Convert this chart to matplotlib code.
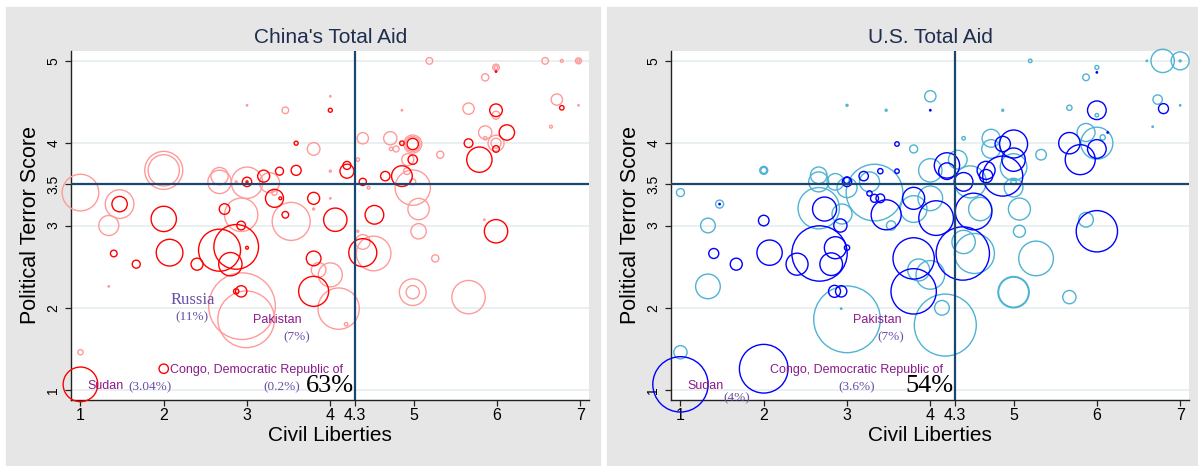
import matplotlib
matplotlib.use("Agg")
import matplotlib.pyplot as plt
from matplotlib.patches import Rectangle

plt.rcParams["font.family"] = ["Liberation Sans", "DejaVu Sans"]

# ---- data: civil liberties (x), political terror score (y), aid (bubble area) ----
# China, light series
china_lt_x = [1.00, 1.47, 1.34, 2.00, 2.00, 2.67, 2.67, 3.00, 3.27, 3.33, 3.80, 3.46, 4.00, 3.00,
              4.00, 4.00, 3.80, 2.87, 2.93, 3.53, 5.19, 6.58, 6.78, 6.98, 6.98, 5.99, 5.99, 5.86,
              6.72, 6.98, 4.86, 6.65, 5.66, 5.99, 5.86, 5.86, 5.99, 5.99, 5.32, 4.39, 4.72, 4.73,
              4.79, 4.99, 4.99, 4.93, 4.99, 4.92, 4.99, 4.46, 4.33, 5.06, 5.06, 4.39, 4.52, 5.26,
              4.99, 4.99, 5.66, 4.10, 4.19, 4.33, 5.85, 2.94, 2.99, 4.00, 3.86, 1.34, 1.00]
china_lt_y = [3.40, 3.26, 3.00, 3.67, 3.67, 3.60, 3.53, 3.52, 3.52, 3.40, 3.93, 4.40, 4.57, 4.46,
              3.66, 3.33, 3.20, 3.53, 3.13, 3.05, 5.00, 5.00, 5.00, 5.00, 5.00, 4.92, 4.92, 4.80,
              4.53, 4.46, 4.40, 4.20, 4.42, 4.34, 4.13, 4.06, 4.00, 4.00, 3.86, 4.06, 4.06, 3.93,
              3.93, 3.99, 3.99, 3.80, 3.46, 3.66, 3.53, 3.46, 3.80, 3.20, 2.93, 2.80, 2.66, 2.60,
              2.19, 2.19, 2.13, 1.99, 1.80, 2.93, 3.07, 2.02, 1.86, 2.40, 2.46, 2.26, 1.46]
china_lt_aid = [336, 205, 100, 361, 245, 75, 136, 245, 100, 7, 40, 11, 0.5, 0.5,
                1, 0.5, 1, 1, 278, 361, 11, 11, 2, 9, 2, 11, 3, 13,
                32, 0.5, 0.5, 2, 32, 16, 44, 3, 64, 25, 13, 32, 44, 3,
                9, 81, 54, 36, 312, 11, 9, 2, 3, 114, 59, 54, 300, 13,
                178, 44, 278, 427, 3, 1, 0.5, 1111, 803, 144, 54, 0.5, 7]

# China, dark series
china_dk_x = [1.47, 2.00, 3.00, 3.00, 3.20, 3.39, 3.59, 3.59, 4.00, 4.20, 4.20, 3.33, 3.40, 3.80,
              2.73, 3.46, 4.06, 2.93, 5.99, 6.78, 5.99, 6.12, 5.99, 5.66, 5.79, 4.86, 4.99, 4.99,
              4.86, 4.66, 4.39, 4.53, 5.99, 4.39, 1.40, 1.67, 2.07, 2.40, 2.67, 2.87, 2.80, 3.00,
              2.93, 2.87, 3.80, 3.80, 1.00, 2.00]
china_dk_y = [3.26, 3.08, 3.53, 3.53, 3.60, 3.66, 3.67, 4.00, 4.40, 3.66, 3.73, 3.33, 3.33, 3.33,
              3.20, 3.13, 3.07, 3.00, 4.87, 4.43, 4.40, 4.13, 3.93, 4.00, 3.80, 4.00, 3.99, 3.80,
              3.60, 3.60, 3.53, 3.13, 2.93, 2.67, 2.66, 2.53, 2.67, 2.53, 2.70, 2.74, 2.53, 2.73,
              2.20, 2.20, 2.60, 2.20, 1.07, 1.26]
china_dk_aid = [59, 160, 22, 1, 36, 16, 25, 4, 4, 49, 16, 81, 2, 36,
                28, 11, 136, 19, 0.5, 5, 40, 59, 11, 19, 160, 5, 32, 22,
                107, 22, 13, 87, 136, 196, 11, 16, 178, 36, 441, 499, 136, 2,
                32, 7, 54, 225, 300, 22]

# U.S., light series
us_lt_x = [1.00, 1.47, 1.33, 2.00, 2.00, 2.66, 2.66, 2.66, 2.86, 2.94, 3.00, 3.33, 3.27, 3.53,
           3.80, 4.00, 3.00, 3.47, 4.00, 3.80, 4.00, 5.20, 6.60, 6.79, 7.00, 7.00, 6.00, 5.87,
           6.73, 7.00, 6.67, 4.87, 5.67, 6.00, 5.87, 6.00, 6.07, 5.33, 4.40, 4.73, 4.73, 5.00,
           5.00, 5.00, 4.48, 4.33, 4.60, 5.07, 5.87, 5.07, 4.40, 4.53, 5.27, 5.00, 5.00, 5.67,
           4.18, 4.14, 1.33, 3.00, 3.86, 4.00, 1.00, 2.93]
us_lt_y = [3.40, 3.26, 3.00, 3.67, 3.67, 3.61, 3.53, 3.21, 3.53, 3.14, 3.46, 3.40, 3.53, 3.00,
           3.93, 4.57, 4.46, 4.40, 3.67, 3.20, 3.33, 5.00, 5.00, 5.00, 5.00, 5.00, 4.92, 4.80,
           4.53, 4.46, 4.20, 4.40, 4.43, 4.34, 4.13, 4.00, 4.07, 3.86, 4.06, 4.06, 3.93, 3.71,
           3.53, 3.46, 3.53, 3.80, 3.20, 3.20, 3.07, 2.93, 2.80, 2.66, 2.60, 2.19, 2.19, 2.13,
           1.79, 2.00, 2.26, 1.86, 2.46, 2.40, 1.46, 1.99]
us_lt_aid = [16, 16, 54, 16, 9, 69, 100, 427, 69, 100, 100, 803, 100, 22,
             16, 32, 1, 1, 136, 178, 152, 3, 0.5, 136, 81, 1, 4, 11,
             22, 0.5, 0.5, 1, 7, 3, 81, 256, 7, 28, 3, 81, 87, 178,
             7, 87, 256, 87, 136, 121, 54, 36, 136, 400, 300, 245, 225, 44,
             961, 54, 152, 1111, 121, 205, 44, 0.5]

# U.S., dark series
us_dk_x = [2.00, 2.73, 3.00, 3.00, 3.20, 3.40, 3.27, 3.33, 3.40, 3.47, 3.60, 3.60, 4.00, 3.80,
           4.07, 4.20, 4.20, 2.92, 6.00, 6.80, 6.00, 6.00, 5.67, 5.80, 6.13, 4.87, 5.00, 5.00,
           4.87, 4.67, 4.67, 4.40, 4.52, 6.00, 4.39, 1.40, 1.67, 2.07, 2.40, 2.67, 2.86, 3.00,
           2.81, 2.85, 2.93, 3.80, 3.80, 1.00, 2.00, 1.47]
us_dk_y = [3.06, 3.20, 3.53, 3.55, 3.60, 3.66, 3.39, 3.33, 3.33, 3.13, 3.66, 3.99, 4.40, 3.33,
           3.09, 3.73, 3.66, 3.00, 4.86, 4.42, 4.40, 3.93, 4.00, 3.80, 4.13, 3.99, 3.99, 3.80,
           3.60, 3.67, 3.60, 3.53, 3.17, 2.93, 2.66, 2.66, 2.53, 2.67, 2.53, 2.66, 2.73, 2.73,
           2.53, 2.20, 2.20, 2.60, 2.20, 1.07, 1.26, 3.26]
us_dk_aid = [28, 144, 22, 11, 22, 7, 7, 16, 19, 225, 5, 5, 0.5, 121,
             300, 160, 69, 44, 0.5, 25, 87, 87, 114, 225, 0.5, 59, 196, 136,
             400, 81, 44, 87, 336, 427, 711, 25, 36, 160, 121, 765, 121, 7,
             128, 36, 32, 427, 514, 765, 592, 0.5]

xticks = [1, 2, 3, 4, 4.3, 5, 6, 7]
yticks = [1, 2, 3, 3.5, 4, 5]
ref_x, ref_y = 4.3, 3.5

panels = [
    {"title": "China's Total Aid", "lt": (china_lt_x, china_lt_y, china_lt_aid),
     "dk": (china_dk_x, china_dk_y, china_dk_aid), "colors": ("#ff9a9a", "#ff0000"),
     "pct": "63%",
     "notes": [("Russia", 2.35, 2.09, "serif", 12, "center"), ("(11%)", 2.34, 1.89, "serif", 9.5, "center"),
               ("Pakistan", 3.36, 1.85, "sans", 9, "center"), ("(7%)", 3.60, 1.64, "serif", 9.5, "center"),
               ("Congo, Democratic Republic of", 2.08, 1.25, "sans", 9, "left"),
               ("(0.2%)", 3.42, 1.03, "serif", 9.5, "center"),
               ("Sudan", 1.08, 1.05, "sans", 9, "left"), ("(3.04%)", 1.83, 1.03, "serif", 9.5, "center")]},
    {"title": "U.S. Total Aid", "lt": (us_lt_x, us_lt_y, us_lt_aid),
     "dk": (us_dk_x, us_dk_y, us_dk_aid), "colors": ("#4fb3d3", "#0000ff"),
     "pct": "54%",
     "notes": [("Pakistan", 3.36, 1.85, "sans", 9, "center"), ("(7%)", 3.53, 1.64, "serif", 9.5, "center"),
               ("Congo, Democratic Republic of", 2.08, 1.25, "sans", 9, "left"),
               ("(3.6%)", 3.12, 1.03, "serif", 9.5, "center"),
               ("Sudan", 1.08, 1.05, "sans", 9, "left"), ("(4%)", 1.67, 0.905, "serif", 9.5, "center")]},
]

W, H = 1198, 466
fig = plt.figure(figsize=(W / 100, H / 100), dpi=100)

# grey panel backgrounds
for x0, x1 in [(6, 600), (607, 1198)]:
    fig.patches.append(Rectangle((x0 / W, 0), (x1 - x0) / W, (H - 7) / H,
                                 transform=fig.transFigure, color="#e6e6e6", zorder=-5))

axes_left = [71.3, 671.3]
area = 2.0736  # pt^2 per aid unit

for p, left in zip(panels, axes_left):
    ax = fig.add_axes([left / W, 66 / H, 518 / W, 349 / H])
    ax.set_zorder(1)
    ax.set_facecolor("white")
    ax.set_xlim(0.89, 7.11)
    ax.set_ylim(0.88, 5.12)

    for yt in [1, 2, 3, 4, 5]:
        ax.axhline(yt, color="#e6eff1", lw=1.3, zorder=1)

    for key, col in zip(["lt", "dk"], p["colors"]):
        xs, ys, aid = p[key]
        ax.scatter(xs, ys, s=[a * area for a in aid], facecolors="none", edgecolors=col,
                   linewidths=1.0, zorder=3, clip_on=False)

    ax.axvline(ref_x, color="#1a476f", lw=1.6, zorder=4)
    ax.axhline(ref_y, color="#1a476f", lw=1.6, zorder=4)

    for txt, x, y, fam, size, ha in p["notes"]:
        if fam == "serif":
            ax.text(x, y, txt, family="Liberation Serif", fontsize=size, color="#6a4fa6",
                    ha=ha, va="center", zorder=5)
        else:
            ax.text(x, y, txt, fontsize=size, color="#8b1a8b", ha=ha, va="center", zorder=5)
    ax.text(4.28, 1.05, p["pct"], family="Liberation Serif", fontsize=19, color="black",
            ha="right", va="center", zorder=5)

    ax.spines["top"].set_visible(False)
    ax.spines["right"].set_visible(False)
    for s in ["left", "bottom"]:
        ax.spines[s].set_color("#222222")
        ax.spines[s].set_linewidth(1.0)

    ax.set_xticks(xticks)
    ax.set_xticklabels([f"{t:g}" for t in xticks], fontsize=11.5)
    ax.set_yticks(yticks)
    ax.set_yticklabels([f"{t:g}" for t in yticks], fontsize=10, rotation=90, va="center")
    ax.tick_params(axis="both", direction="out", length=4, width=0.9, color="#222222")
    ax.tick_params(axis="x", pad=2)
    ax.tick_params(axis="y", pad=4)

    ax.set_xlabel("Civil Liberties", fontsize=15, labelpad=2)
    ax.set_ylabel("Political Terror Score", fontsize=15.5, labelpad=4)
    ax.set_title(p["title"], fontsize=15, color="#1f2d4e", pad=6)

fig.savefig("out.png", dpi=100)
